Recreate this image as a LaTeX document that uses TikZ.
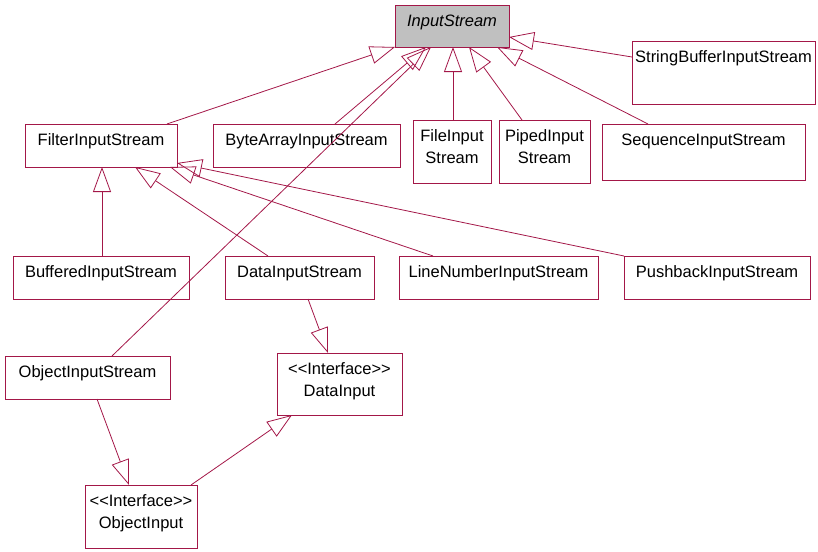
\documentclass[tikz,border=0pt]{standalone}
\usepackage{fontspec}
\setmainfont{Liberation Sans}
\usetikzlibrary{arrows.meta}
\definecolor{umlred}{RGB}{163,23,72}
\definecolor{umlgray}{RGB}{192,192,192}
\begin{document}
\begin{tikzpicture}[x=1pt,y=-1pt,
  font=\fontsize{16.5}{21.5}\selectfont,
  box/.style={draw=umlred, line width=0.9pt, inner sep=0pt, outer sep=0pt, anchor=north west},
  lbl/.style={anchor=north, inner sep=0pt, yshift=-9.5pt, align=center, text=black},
  gen/.style={draw=umlred, line width=0.8pt, -{Triangle[open, length=25pt, width=18pt, line width=0.8pt]}}
]
\useasboundingbox (0,0) rectangle (818,551);
\newcommand{\umlbox}[6]{%
  \node[box, fill=#6, minimum width={#4-#2}, minimum height={#5-#3}] (#1) at (#2,#3) {};}
% boxes
\node[box, fill=umlgray, minimum width=114pt, minimum height=42pt,
  label={[lbl]north:\itshape InputStream}] (in) at (395,5) {};
\node[box, minimum width=183pt, minimum height=63pt,
  label={[lbl]north:StringBufferInputStream}] (sbuf) at (632,41) {};
\node[box, minimum width=152pt, minimum height=43pt,
  label={[lbl]north:FilterInputStream}] (filter) at (25,124) {};
\node[box, minimum width=187pt, minimum height=43pt,
  label={[lbl]north:ByteArrayInputStream}] (bytearr) at (213,124) {};
\node[box, minimum width=78pt, minimum height=63pt,
  label={[lbl]north:FileInput\\Stream}] (file) at (413,120) {};
\node[box, minimum width=91pt, minimum height=63pt,
  label={[lbl]north:PipedInput\\Stream}] (piped) at (499,120) {};
\node[box, minimum width=203pt, minimum height=56pt,
  label={[lbl]north:SequenceInputStream}] (seq) at (602,124) {};
\node[box, minimum width=176pt, minimum height=43pt,
  label={[lbl]north:BufferedInputStream}] (buf) at (13,256) {};
\node[box, minimum width=149pt, minimum height=43pt,
  label={[lbl]north:DataInputStream}] (data) at (225,256) {};
\node[box, minimum width=199pt, minimum height=43pt,
  label={[lbl]north:LineNumberInputStream}] (linenum) at (399,256) {};
\node[box, minimum width=186pt, minimum height=43pt,
  label={[lbl]north:PushbackInputStream}] (push) at (624,256) {};
\node[box, minimum width=165pt, minimum height=43pt,
  label={[lbl]north:ObjectInputStream}] (objin) at (5,356) {};
\node[box, minimum width=125pt, minimum height=62pt,
  label={[lbl]north:{<}{<}Interface{>}{>}\\DataInput}] (datai) at (277,353) {};
\node[box, minimum width=112pt, minimum height=63pt,
  label={[lbl]north:{<}{<}Interface{>}{>}\\ObjectInput}] (obji) at (85,485) {};
% generalizations
\draw[gen] (167,0 |- filter.north) -- (in.south west);
\draw[gen] (335,0 |- bytearr.north) -- (426,0 |- in.south);
\draw[gen] (112,0 |- objin.north) -- (431,0 |- in.south);
\draw[gen] (453,0 |- file.north) -- (453,0 |- in.south);
\draw[gen] (522,0 |- piped.north) -- (469,0 |- in.south);
\draw[gen] (648,0 |- seq.north) -- (497,0 |- in.south);
\draw[gen] (sbuf.west |- 0,57) -- (in.east |- 0,37);
\draw[gen] (102,0 |- buf.north) -- (102,0 |- filter.south);
\draw[gen] (268,0 |- data.north) -- (135,0 |- filter.south);
\draw[gen] (433,0 |- linenum.north) -- (170,0 |- filter.south);
\draw[gen] (push.north west) -- (filter.east |- 0,163);
\draw[gen] (308,0 |- data.south) -- (328,0 |- datai.north);
\draw[gen] (97,0 |- objin.south) -- (129,0 |- obji.north);
\draw[gen] (191,0 |- obji.north) -- (292,0 |- datai.south);
\end{tikzpicture}
\end{document}
